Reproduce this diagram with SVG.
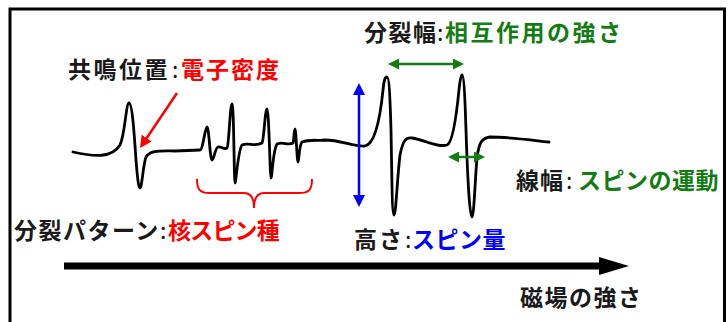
<svg xmlns="http://www.w3.org/2000/svg" width="728" height="322" viewBox="0 0 728 322">
<style>
  text { font-family: "Noto Sans CJK JP", "Noto Sans", sans-serif; font-weight: bold; font-size: 23px; }
  .c { font-weight: normal; }
  .k { fill: #1a1a1a; }
  .r { fill: #ff0000; }
  .g { fill: #137c13; }
  .b { fill: #0000ff; }
  .wave { fill: none; stroke: #000; stroke-width: 2.8; stroke-linejoin: round; stroke-linecap: round; }
</style>
<defs>
  <marker id="mb" viewBox="0 0 10 10" refX="7" refY="5" markerWidth="12" markerHeight="12" markerUnits="userSpaceOnUse" orient="auto-start-reverse"><path d="M0,0 L10,5 L0,10 z" fill="#0000ff"/></marker>
  <marker id="mg" viewBox="0 0 10 10" refX="7" refY="5" markerWidth="11" markerHeight="11" markerUnits="userSpaceOnUse" orient="auto-start-reverse"><path d="M0,0 L10,5 L0,10 z" fill="#137c13"/></marker>
  <marker id="mr" viewBox="0 0 10 10" refX="7" refY="5" markerWidth="12" markerHeight="12" markerUnits="userSpaceOnUse" orient="auto-start-reverse"><path d="M0,0 L10,5 L0,10 z" fill="#ff0000"/></marker>
</defs>
<rect width="728" height="322" fill="#fff"/>
<rect id="frame" x="10" y="9" width="714.5" height="330" fill="none" stroke="#000" stroke-width="3"/>

<g id="spectrum">
  <path class="wave" d="M73,152 C95,157 112,158 120,145 C125,135 126,103 129,103 C132,103 134,130 136,160 C138,185 139,188 140,188 C142,188 143,165 146,157 C150,150 160,151 175,151 L200,150 C203,150 205,127 207,127 C209,127 210,160 212,160 C214,160 215,148 218,147 C221,146 224,150 227,148 C229,146 230,104 232,104 C234,104 234,183 235,183 C236,183 238,150 242,145 C248,142 255,147 262,143 C264,140 265,109 267,109 C269,109 270,178 271,178 C272,178 273,150 277,144 C283,141 288,146 293,143 C294,140 294,129 295,129 C296,129 297,162 298,162 C299,162 299,145 302,142 C310,139 318,141 325,140 C340,140 355,147 365,146 C375,144 380,120 383,90 C384,80 385,77 387,77 C389,77 390,95 391,130 C392,180 392,215 394,215 C396,215 397,180 400,155 C403,140 406,137 412,138 C425,140 438,148 447,145 C453,143 457,110 459,90 C460,80 461,75 462,75 C464,75 465,100 466,130 C468,190 470,217 472,217 C474,217 475,180 477,158 C479,142 482,138 490,137 C510,137 530,140 549,142"/>
</g>

<g id="connectors">
  <line x1="177" y1="93" x2="142" y2="145" stroke="#ff0000" stroke-width="2.5" marker-end="url(#mr)"/>
  <path d="M197,179 C197,190 200,193 210,193 L244,193 C251,193 254,198 254,208 C254,198 257,193 264,193 L299,193 C309,193 312,190 312,179" fill="none" stroke="#ff0000" stroke-width="2"/>
  <line x1="359" y1="86.6" x2="359" y2="203.4" stroke="#0000ff" stroke-width="2.5" marker-start="url(#mb)" marker-end="url(#mb)"/>
  <line x1="391.3" y1="64" x2="460.7" y2="64" stroke="#137c13" stroke-width="2.5" marker-start="url(#mg)" marker-end="url(#mg)"/>
  <line x1="451.3" y1="157" x2="481.7" y2="157" stroke="#137c13" stroke-width="2.5" marker-start="url(#mg)" marker-end="url(#mg)"/>
  <line x1="64" y1="266" x2="601" y2="266" stroke="#000" stroke-width="7"/>
  <path d="M599,257 L629,266 L599,275 z" fill="#000"/>
</g>

<g id="label-position">
  <text x="68" y="78" class="k" letter-spacing="2.5">共鳴位置</text>
  <text x="172" y="78" class="k c">:</text>
  <text x="181" y="78" class="r" letter-spacing="2">電子密度</text>
</g>
<g id="label-splitting">
  <text x="364" y="41" class="k" letter-spacing="1.5">分裂幅</text>
  <text x="437" y="41" class="k c">:</text>
  <text x="445" y="41" class="g" letter-spacing="2.5">相互作用の強さ</text>
</g>
<g id="label-pattern">
  <text x="14" y="239" class="k" letter-spacing="1.5">分裂パターン</text>
  <text x="160" y="239" class="k c">:</text>
  <text x="168" y="239" class="r" letter-spacing="-0.8">核スピン種</text>
</g>
<g id="label-height">
  <text x="354" y="248" class="k" letter-spacing="2">高さ</text>
  <text x="405" y="248" class="k c">:</text>
  <text x="412" y="248" class="b" letter-spacing="0.5">スピン量</text>
</g>
<g id="label-width">
  <text x="516" y="189" class="k" letter-spacing="1">線幅</text>
  <text x="566" y="189" class="k c">:</text>
  <text x="578" y="189" class="g" letter-spacing="0.5">スピンの運動</text>
</g>
<g id="label-field">
  <text x="520" y="306" class="k" letter-spacing="1.5">磁場の強さ</text>
</g>
</svg>
